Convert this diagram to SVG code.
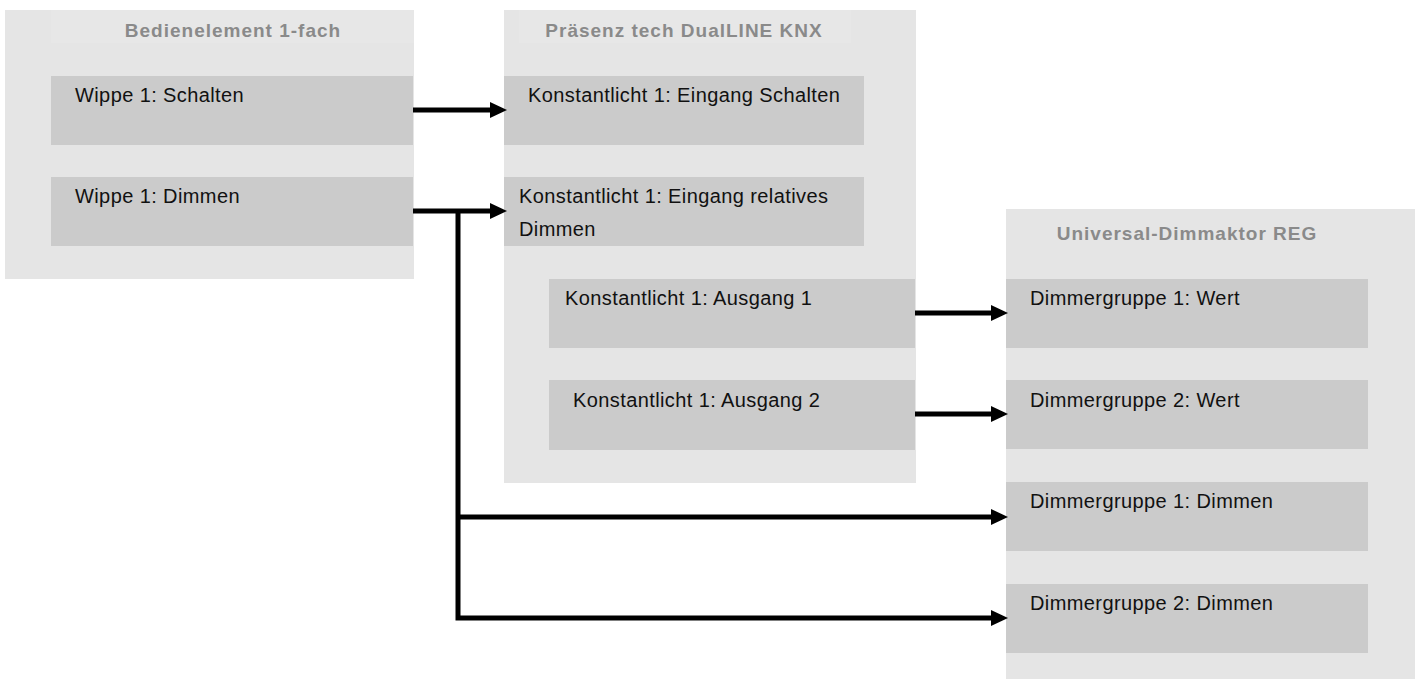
<svg xmlns="http://www.w3.org/2000/svg" width="1418" height="679" viewBox="0 0 1418 679">
<style>
.outer{fill:#e5e5e5}
.port{fill:#cbcbcb}
.col{fill:#e7e7e7}
.hdr{font-family:"Liberation Sans",Arial,sans-serif;font-weight:bold;font-size:19px;letter-spacing:1px;fill:#8a8a8a;text-anchor:middle}
.lbl{font-family:"Liberation Sans",Arial,sans-serif;font-size:20px;letter-spacing:0.4px;fill:#111}
.wire{fill:none;stroke:#000;stroke-width:5;stroke-linejoin:miter}
</style>
<defs>
<marker id="ah" markerUnits="userSpaceOnUse" markerWidth="17" markerHeight="17" refX="11" refY="8.5" orient="auto">
<path d="M0,0.5 L17,8.5 L0,16.5 z" fill="#000"/>
</marker>
</defs>
<rect width="1418" height="679" fill="#fff"/>
<g id="bedienelement">
<rect class="outer" x="5" y="10" width="409" height="269"/>
<rect class="col" x="51" y="10" width="363" height="33"/>
<text class="hdr" x="233" y="37">Bedienelement 1-fach</text>
<g id="wippe-schalten">
<rect class="port" x="51" y="76" width="362" height="69"/>
<text class="lbl" x="75" y="102">Wippe 1: Schalten</text>
</g>
<g id="wippe-dimmen">
<rect class="port" x="51" y="177" width="362" height="69"/>
<text class="lbl" x="75" y="203">Wippe 1: Dimmen</text>
</g>
</g>
<g id="praesenz">
<rect class="outer" x="504" y="10" width="412" height="473"/>
<rect class="col" x="519" y="10" width="332" height="33"/>
<text class="hdr" x="684" y="37">Präsenz tech DualLINE KNX</text>
<g id="kl-eingang-schalten">
<rect class="port" x="504" y="76" width="360" height="69"/>
<text class="lbl" x="528" y="102">Konstantlicht 1: Eingang Schalten</text>
</g>
<g id="kl-eingang-dimmen">
<rect class="port" x="504" y="177" width="360" height="69"/>
<text class="lbl" x="519" y="203">Konstantlicht 1: Eingang relatives</text>
<text class="lbl" x="519" y="236">Dimmen</text>
</g>
<g id="kl-ausgang-1">
<rect class="port" x="549" y="279" width="366" height="69"/>
<text class="lbl" x="565" y="305">Konstantlicht 1: Ausgang 1</text>
</g>
<g id="kl-ausgang-2">
<rect class="port" x="549" y="380" width="366" height="70"/>
<text class="lbl" x="573" y="407">Konstantlicht 1: Ausgang 2</text>
</g>
</g>
<g id="dimmaktor">
<rect class="outer" x="1006" y="209" width="409" height="470"/>
<text class="hdr" x="1187" y="240">Universal-Dimmaktor REG</text>
<g id="dg1-wert">
<rect class="port" x="1006" y="279" width="362" height="69"/>
<text class="lbl" x="1030" y="305">Dimmergruppe 1: Wert</text>
</g>
<g id="dg2-wert">
<rect class="port" x="1006" y="380" width="362" height="69"/>
<text class="lbl" x="1030" y="407">Dimmergruppe 2: Wert</text>
</g>
<g id="dg1-dimmen">
<rect class="port" x="1006" y="482" width="362" height="69"/>
<text class="lbl" x="1030" y="508">Dimmergruppe 1: Dimmen</text>
</g>
<g id="dg2-dimmen">
<rect class="port" x="1006" y="584" width="362" height="69"/>
<text class="lbl" x="1030" y="610">Dimmergruppe 2: Dimmen</text>
</g>
</g>
<g id="connectors">
<path class="wire" d="M413,110 H501" marker-end="url(#ah)"/>
<path class="wire" d="M413,211 H501" marker-end="url(#ah)"/>
<path class="wire" d="M458,211 V618 H1002" marker-end="url(#ah)"/>
<path class="wire" d="M458,517 H1002" marker-end="url(#ah)"/>
<path class="wire" d="M915,313 H1002" marker-end="url(#ah)"/>
<path class="wire" d="M915,414 H1002" marker-end="url(#ah)"/>
</g>
</svg>
